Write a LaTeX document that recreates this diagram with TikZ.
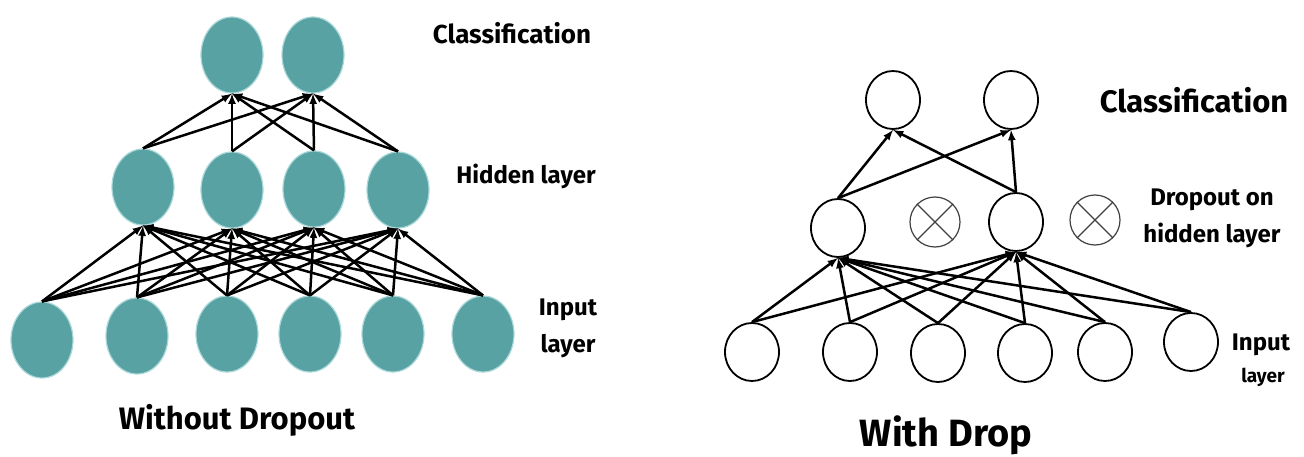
\documentclass[tikz,border=0pt]{standalone}
\usepackage{fontspec}
\setmainfont{Fira Sans}
\usetikzlibrary{shapes.geometric}
\definecolor{netteal}{RGB}{88,162,164}
\definecolor{netring}{RGB}{170,215,215}
\tikzset{
  tealunit/.style={ellipse,fill=netteal,draw=netring,line width=1.2pt,
    minimum width=62pt,minimum height=76pt,inner sep=0pt},
  plainunit/.style={ellipse,draw=black,line width=1.8pt,
    minimum width=54pt,minimum height=58pt,inner sep=0pt},
  dropunit/.style={circle,draw=black!75,line width=1.2pt,
    minimum size=50pt,inner sep=0pt},
  link/.style={-latex,line width=2.5pt},
  lbl/.style={font=\bfseries\fontsize{24}{28}\selectfont,align=center},
}
\begin{document}
\begin{tikzpicture}[x=1pt,y=-1pt]
\useasboundingbox (0,0) rectangle (1304,457);
% without dropout
\foreach \n/\x/\y in {1/232/55,2/313/55}
\node[tealunit] (lt\n) at (\x,\y) {};
\foreach \n/\x/\y in {1/143/187,2/232/190,3/314/189,4/398/190}
\node[tealunit] (lh\n) at (\x,\y) {};
\foreach \n/\x/\y in {1/42/340,2/137/336,3/227/334,4/310/334,5/393/334,6/483/334}
\node[tealunit] (li\n) at (\x,\y) {};
\foreach \i in {1,...,4}
\foreach \j in {1,2}
\draw[link] (lh\i.north) -- (lt\j.south);
\foreach \i in {1,...,6}
\foreach \j in {1,...,4}
\draw[link] (li\i.north) -- (lh\j.south);
\node[lbl,font=\bfseries\fontsize{26}{30}\selectfont] (lcls) at (512,33) {Classification};
\node[lbl] (lhid) at (526,176) {Hidden layer};
\node[lbl,font=\bfseries\fontsize{24}{37}\selectfont] (linp) at (568,328) {Input\\layer};
\node[lbl,font=\bfseries\fontsize{31}{36}\selectfont] (ltitle) at (237,420) {Without Dropout};
% with dropout
\foreach \n/\x/\y in {1/893/100,2/1011/100}
\node[plainunit] (rt\n) at (\x,\y) {};
\node[plainunit] (rh1) at (838,228) {};
\node[plainunit] (rh2) at (1016,222) {};
\node[dropunit] (rd1) at (935,222) {};
\node[dropunit] (rd2) at (1095,220) {};
\foreach \n/\x/\y in {1/752/352,2/850/352,3/938/353,4/1025/353,5/1105/352,6/1191/342}
\node[plainunit] (ri\n) at (\x,\y) {};
\foreach \d in {1,2}
\draw[black!75,line width=1.2pt] (rd\d.45) -- (rd\d.225) (rd\d.135) -- (rd\d.-45);
\foreach \i in {1,2}
\foreach \j in {1,2}
\draw[link] (rh\i.north) -- (rt\j.south);
\foreach \i in {1,...,6}
\foreach \j in {1,2}
\draw[link] (ri\i.north) -- (rh\j.south);
\node[lbl,font=\bfseries\fontsize{31}{36}\selectfont] (rcls) at (1194,100) {Classification};
\node[lbl,font=\bfseries\fontsize{24}{37}\selectfont] (rhid) at (1212,218) {Dropout on\\hidden layer};
\node[lbl] (rinp) at (1261,345) {Input};
\node[lbl,font=\bfseries\fontsize{19}{22}\selectfont] (rlay) at (1263,377) {layer};
\node[lbl,font=\bfseries\fontsize{38}{44}\selectfont] (rtitle) at (946,435) {With Drop};
\end{tikzpicture}
\end{document}
